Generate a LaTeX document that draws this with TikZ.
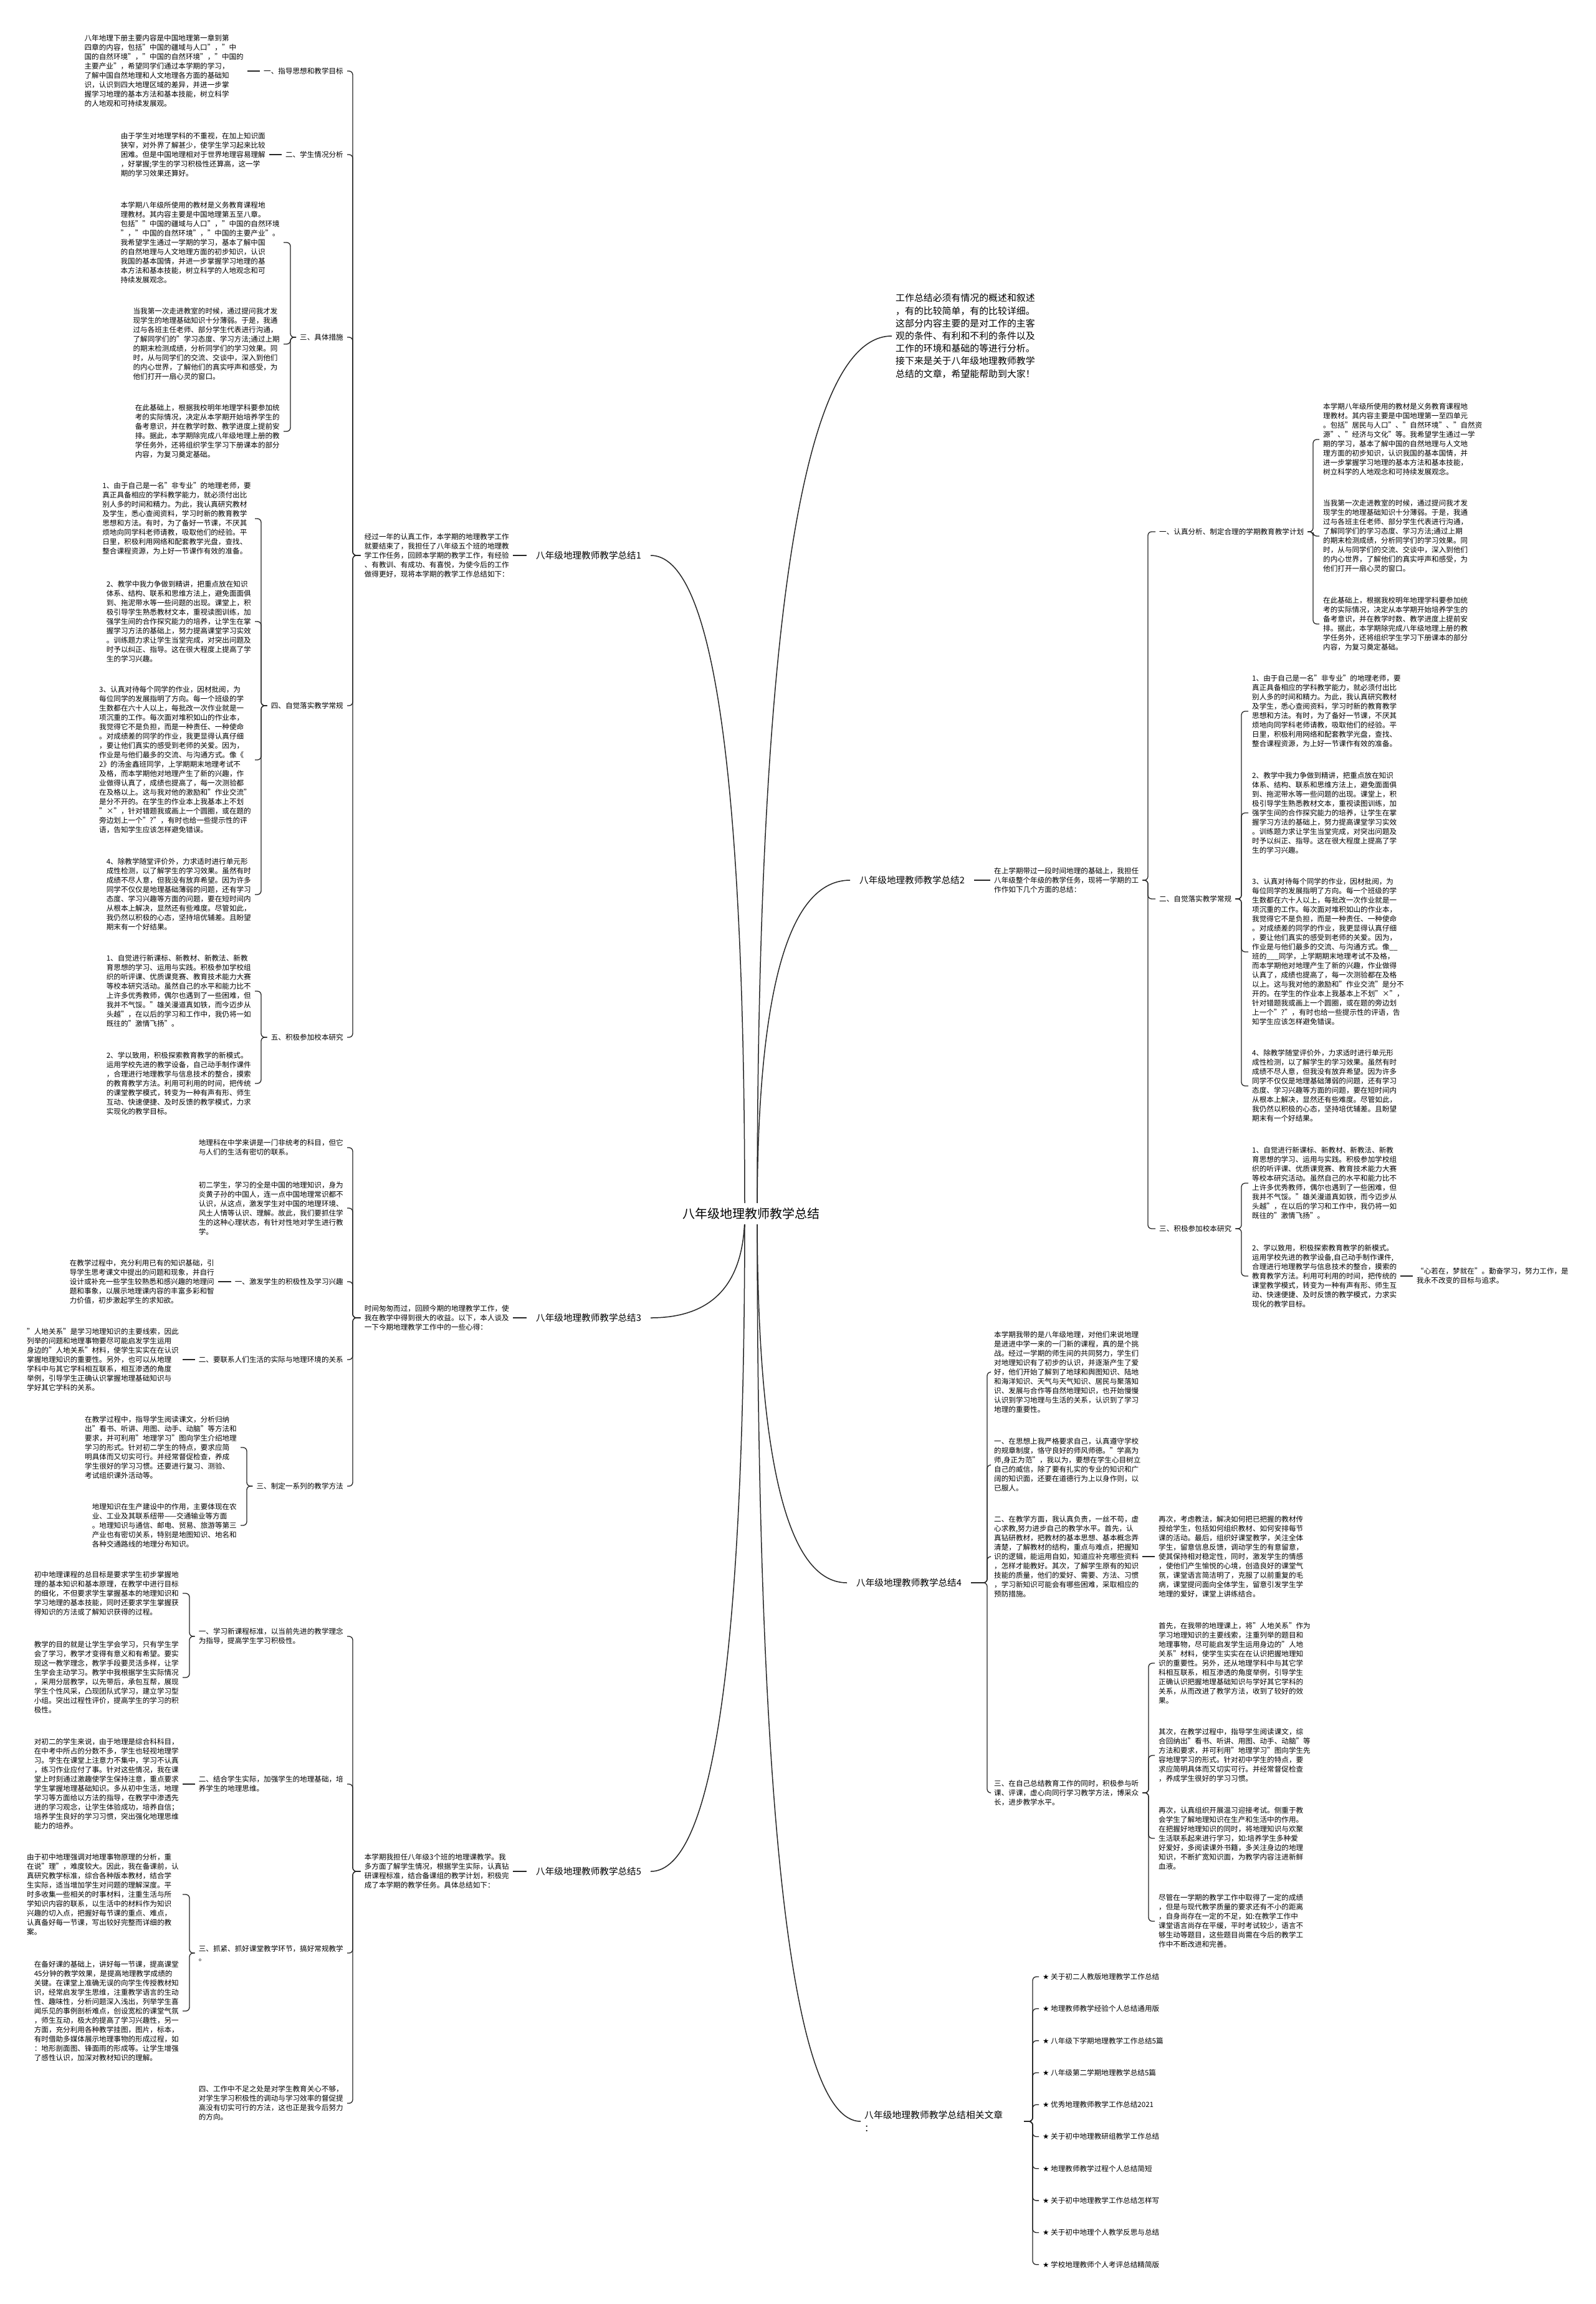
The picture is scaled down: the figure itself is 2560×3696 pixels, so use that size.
\documentclass[tikz,border=0pt]{standalone}
\usepackage{fontspec}
\setmainfont{Noto Sans CJK SC}
\newfontfamily\symfont{DejaVu Sans}
\usetikzlibrary{calc}

\begin{document}
\begin{tikzpicture}[x=1pt, y=-1pt,
    leaf/.style={font=\fontsize{11.6}{15}\selectfont, align=left, inner xsep=6pt, inner ysep=2pt},
    branch/.style={font=\fontsize{14.6}{18}\selectfont, inner xsep=15pt, inner ysep=3pt},
    bigtext/.style={font=\fontsize{14.9}{20.2}\selectfont, align=left, inner xsep=6pt, inner ysep=2pt},
    root/.style={font=\fontsize{20}{24}\selectfont, fill=white, inner sep=8pt},
    link/.style={draw=black!85, line width=1.3pt, rounded corners=6pt},
    rootlink/.style={draw=black!85, line width=1.5pt}]
  \fill[white] (0,0) rectangle (2560,3696);
  \useasboundingbox (0,0) rectangle (2560,3696);

  % bracket columns
  \coordinate (bL1) at (566,0);
  \coordinate (bL2) at (466,0);
  \coordinate (bL3) at (419,0);
  \coordinate (bL4) at (396,0);
  \coordinate (bL5) at (304,0);
  \coordinate (bR1) at (1842,0);
  \coordinate (bR2) at (2107,0);
  \coordinate (bR3) at (1992,0);
  \coordinate (bR4) at (1584,0);
  \coordinate (bR5) at (1843,0);
  \coordinate (bR6) at (1657,0);
  \coordinate (rl) at (1195,1947);
  \coordinate (rr) at (1215,1947);

  % ---------- summary 1 ----------
  \node[branch, anchor=west] (s1) at (845,891) {八年级地理教师教学总结1};
  \node[leaf, anchor=east] (s1in) at (823,891) {经过一年的认真工作，本学期的地理教学工作\\就要结束了，我担任了八年级五个班的地理教\\学工作任务，回顾本学期的教学工作，有经验\\、有教训、有成功、有喜悦，为使今后的工作\\做得更好，现将本学期的教学工作总结如下：};
  \node[leaf, anchor=east] (s1a) at (557,114) {一、指导思想和教学目标};
  \node[leaf, anchor=east] (s1at) at (397,114) {八年地理下册主要内容是中国地理第一章到第\\四章的内容，包括"中国的疆域与人口"，"中\\国的自然环境"，"中国的自然环境"，"中国的\\主要产业"，希望同学们通过本学期的学习，\\了解中国自然地理和人文地理各方面的基础知\\识，认识到四大地理区域的差异，并进一步掌\\握学习地理的基本方法和基本技能，树立科学\\的人地观和可持续发展观。};
  \node[leaf, anchor=east] (s1b) at (557,248) {二、学生情况分析};
  \node[leaf, anchor=east] (s1bt) at (432,248) {由于学生对地理学科的不重视，在加上知识面\\狭窄，对外界了解甚少，使学生学习起来比较\\困难。但是中国地理相对于世界地理容易理解\\，好掌握;学生的学习积极性还算高，这一学\\期的学习效果还算好。};
  \node[leaf, anchor=east] (s1c) at (557,541) {三、具体措施};
  \node[leaf, anchor=east] (s1c1) at (455,389) {本学期八年级所使用的教材是义务教育课程地\\理教材。其内容主要是中国地理第五至八章。\\包括""中国的疆域与人口"，"中国的自然环境\\"，"中国的自然环境"，"中国的主要产业"。\\我希望学生通过一学期的学习，基本了解中国\\的自然地理与人文地理方面的初步知识，认识\\我国的基本国情，并进一步掌握学习地理的基\\本方法和基本技能，树立科学的人地观念和可\\持续发展观念。};
  \node[leaf, anchor=east] (s1c2) at (455,552) {当我第一次走进教室的时候，通过提问我才发\\现学生的地理基础知识十分薄弱。于是，我通\\过与各班主任老师、部分学生代表进行沟通，\\了解同学们的"学习态度、学习方法;通过上期\\的期末检测成绩，分析同学们的学习效果。同\\时，从与同学们的交流、交谈中，深入到他们\\的内心世界，了解他们的真实呼声和感受，为\\他们打开一扇心灵的窗口。};
  \node[leaf, anchor=east] (s1c3) at (455,692) {在此基础上，根据我校明年地理学科要参加统\\考的实际情况，决定从本学期开始培养学生的\\备考意识，并在教学时数、教学进度上提前安\\排。据此，本学期除完成八年级地理上册的教\\学任务外，还将组织学生学习下册课本的部分\\内容，为复习奠定基础。};
  \node[leaf, anchor=east] (s1d) at (557,1132) {四、自觉落实教学常规};
  \node[leaf, anchor=east] (s1d1) at (409,832) {1、由于自己是一名"非专业"的地理老师，要\\真正具备相应的学科教学能力，就必须付出比\\别人多的时间和精力。为此，我认真研究教材\\及学生，悉心查阅资料，学习时新的教育教学\\思想和方法。有时，为了备好一节课，不厌其\\烦地向同学科老师请教，吸取他们的经验。平\\日里，积极利用网络和配套教学光盘，查找、\\整合课程资源，为上好一节课作有效的准备。};
  \node[leaf, anchor=east] (s1d2) at (409,997) {2、教学中我力争做到精讲，把重点放在知识\\体系、结构、联系和思维方法上，避免面面俱\\到、拖泥带水等一些问题的出现。课堂上，积\\极引导学生熟悉教材文本，重视读图训练，加\\强学生间的合作探究能力的培养，让学生在掌\\握学习方法的基础上，努力提高课堂学习实效\\。训练题力求让学生当堂完成，对突出问题及\\时予以纠正、指导。这在很大程度上提高了学\\生的学习兴趣。};
  \node[leaf, anchor=east] (s1d3) at (409,1219) {3、认真对待每个同学的作业，因材批阅，为\\每位同学的发展指明了方向。每一个班级的学\\生数都在六十人以上，每批改一次作业就是一\\项沉重的工作。每次面对堆积如山的作业本，\\我觉得它不是负担，而是一种责任、一种使命\\。对成绩差的同学的作业，我更显得认真仔细\\，要让他们真实的感受到老师的关爱。因为，\\作业是与他们最多的交流、与沟通方式。像《\\2》的汤金鑫班同学，上学期期末地理考试不\\及格，而本学期他对地理产生了新的兴趣，作\\业做得认真了，成绩也提高了，每一次测验都\\在及格以上。这与我对他的激励和"作业交流"\\是分不开的。在学生的作业本上我基本上不划\\"×"，针对错题我或画上一个圆圈，或在题的\\旁边划上一个"?"，有时也给一些提示性的评\\语，告知学生应该怎样避免错误。};
  \node[leaf, anchor=east] (s1d4) at (409,1435) {4、除教学随堂评价外，力求适时进行单元形\\成性检测，以了解学生的学习效果。虽然有时\\成绩不尽人意，但我没有放弃希望。因为许多\\同学不仅仅是地理基础薄弱的问题，还有学习\\态度、学习兴趣等方面的问题，要在短时间内\\从根本上解决，显然还有些难度。尽管如此，\\我仍然以积极的心态，坚持培优辅差。且盼望\\期末有一个好结果。};
  \node[leaf, anchor=east] (s1e) at (557,1664) {五、积极参加校本研究};
  \node[leaf, anchor=east] (s1e1) at (409,1590) {1、自觉进行新课标、新教材、新教法、新教\\育思想的学习、运用与实践。积极参加学校组\\织的听评课、优质课竞赛、教育技术能力大赛\\等校本研究活动。虽然自己的水平和能力比不\\上许多优秀教师，偶尔也遇到了一些困难，但\\我并不气馁。"雄关漫道真如铁，而今迈步从\\头越"，在以后的学习和工作中，我仍将一如\\既往的"激情飞扬"。};
  \node[leaf, anchor=east] (s1e2) at (409,1738) {2、学以致用，积极探索教育教学的新模式。\\运用学校先进的教学设备，自己动手制作课件\\，合理进行地理教学与信息技术的整合，摸索\\的教育教学方法。利用可利用的时间，把传统\\的课堂教学模式，转变为一种有声有形、师生\\互动、快速便捷、及时反馈的教学模式，力求\\实现化的教学目标。};

  \draw[link] (s1in) -- (s1);
  \draw[link] (s1in.west) -- (s1in.west -| bL1) |- (s1a.east);
  \draw[link] (s1in.west) -- (s1in.west -| bL1) |- (s1b.east);
  \draw[link] (s1in.west) -- (s1in.west -| bL1) |- (s1c.east);
  \draw[link] (s1in.west) -- (s1in.west -| bL1) |- (s1d.east);
  \draw[link] (s1in.west) -- (s1in.west -| bL1) |- (s1e.east);
  \draw[link] (s1a) -- (s1at);
  \draw[link] (s1b) -- (s1bt);
  \draw[link] (s1c.west) -- (s1c.west -| bL2) |- (s1c1.east);
  \draw[link] (s1c.west) -- (s1c.west -| bL2) |- (s1c2.east);
  \draw[link] (s1c.west) -- (s1c.west -| bL2) |- (s1c3.east);
  \draw[link] (s1d.west) -- (s1d.west -| bL3) |- (s1d1.east);
  \draw[link] (s1d.west) -- (s1d.west -| bL3) |- (s1d2.east);
  \draw[link] (s1d.west) -- (s1d.west -| bL3) |- (s1d3.east);
  \draw[link] (s1d.west) -- (s1d.west -| bL3) |- (s1d4.east);
  \draw[link] (s1e.west) -- (s1e.west -| bL3) |- (s1e1.east);
  \draw[link] (s1e.west) -- (s1e.west -| bL3) |- (s1e2.east);

  % ---------- summary 3 ----------
  \node[branch, anchor=west] (s3) at (845,2114) {八年级地理教师教学总结3};
  \node[leaf, anchor=east] (s3in) at (823,2114) {时间匆匆而过，回顾今期的地理教学工作，使\\我在教学中得到很大的收益。以下，本人谈及\\一下今期地理教学工作中的一些心得：};
  \node[leaf, anchor=east] (s3a) at (557,1841) {地理科在中学来讲是一门非统考的科目，但它\\与人们的生活有密切的联系。};
  \node[leaf, anchor=east] (s3b) at (557,1938) {初二学生，学习的全是中国的地理知识，身为\\炎黄子孙的中国人，连一点中国地理常识都不\\认识，从这点，激发学生对中国的地理环境、\\风土人情等认识、理解。故此，我们要抓住学\\生的这种心理状态，有针对性地对学生进行教\\学。};
  \node[leaf, anchor=east] (s3c) at (557,2056) {一、激发学生的积极性及学习兴趣};
  \node[leaf, anchor=east] (s3ct) at (350,2056) {在教学过程中，充分利用已有的知识基础，引\\导学生思考课文中提出的问题和现象，并自行\\设计或补充一些学生较熟悉和感兴趣的地理问\\题和事象，以展示地理课内容的丰富多彩和智\\力价值，初步激起学生的求知欲。};
  \node[leaf, anchor=east] (s3d) at (557,2181) {二、要联系人们生活的实际与地理环境的关系};
  \node[leaf, anchor=east] (s3dt) at (293,2181) {"人地关系"是学习地理知识的主要线索，因此\\列举的问题和地理事物要尽可能启发学生运用\\身边的"人地关系"材料，使学生实实在在认识\\掌握地理知识的重要性。另外，也可以从地理\\学科中与其它学科相互联系，相互渗透的角度\\举例，引导学生正确认识掌握地理基础知识与\\学好其它学科的关系。};
  \node[leaf, anchor=east] (s3e) at (557,2384) {三、制定一系列的教学方法};
  \node[leaf, anchor=east] (s3e1) at (386,2322) {在教学过程中，指导学生阅读课文，分析归纳\\出"看书、听讲、用图、动手、动脑"等方法和\\要求，并可利用"地理学习"图向学生介绍地理\\学习的形式。针对初二学生的特点，要求应简\\明具体而又切实可行。并经常督促检查，养成\\学生很好的学习习惯。还要进行复习、测验、\\考试组织课外活动等。};
  \node[leaf, anchor=east] (s3e2) at (386,2447) {地理知识在生产建设中的作用，主要体现在农\\业、工业及其联系纽带——交通输业等方面\\。地理知识与通信、邮电、贸易、旅游等第三\\产业也有密切关系，特别是地图知识、地名和\\各种交通路线的地理分布知识。};

  \draw[link] (s3in) -- (s3);
  \draw[link] (s3in.west) -- (s3in.west -| bL1) |- (s3a.east);
  \draw[link] (s3in.west) -- (s3in.west -| bL1) |- (s3b.east);
  \draw[link] (s3in.west) -- (s3in.west -| bL1) |- (s3c.east);
  \draw[link] (s3in.west) -- (s3in.west -| bL1) |- (s3d.east);
  \draw[link] (s3in.west) -- (s3in.west -| bL1) |- (s3e.east);
  \draw[link] (s3c) -- (s3ct);
  \draw[link] (s3d) -- (s3dt);
  \draw[link] (s3e.west) -- (s3e.west -| bL4) |- (s3e1.east);
  \draw[link] (s3e.west) -- (s3e.west -| bL4) |- (s3e2.east);

  % ---------- summary 5 ----------
  \node[branch, anchor=west] (s5) at (845,3002) {八年级地理教师教学总结5};
  \node[leaf, anchor=east] (s5in) at (823,3002) {本学期我担任八年级3个班的地理课教学。我\\多方面了解学生情况，根据学生实际，认真钻\\研课程标准，结合备课组的教学计划，积极完\\成了本学期的教学任务。具体总结如下：};
  \node[leaf, anchor=east] (s5a) at (557,2625) {一、学习新课程标准，以当前先进的教学理念\\为指导，提高学生学习积极性。};
  \node[leaf, anchor=east] (s5a1) at (293,2556) {初中地理课程的总目标是要求学生初步掌握地\\理的基本知识和基本原理，在教学中进行目标\\的细化，不但要求学生掌握基本的地理知识和\\学习地理的基本技能，同时还要求学生掌握获\\得知识的方法或了解知识获得的过程。};
  \node[leaf, anchor=east] (s5a2) at (293,2691) {教学的目的就是让学生学会学习，只有学生学\\会了学习，教学才变得有意义和有希望。要实\\现这一教学理念，教学手段要灵活多样，让学\\生学会主动学习。教学中我根据学生实际情况\\，采用分层教学，以先带后，承包互帮，展现\\学生个性风采，凸现团队式学习，建立学习型\\小组。突出过程性评价，提高学生的学习的积\\极性。};
  \node[leaf, anchor=east] (s5b) at (557,2862) {二、结合学生实际，加强学生的地理基础，培\\养学生的地理思维。};
  \node[leaf, anchor=east] (s5bt) at (293,2862) {对初二的学生来说，由于地理是综合科科目，\\在中考中所占的分数不多，学生也轻视地理学\\习。学生在课堂上注意力不集中，学习不认真\\，练习作业应付了事。针对这些情况，我在课\\堂上时刻通过激趣使学生保持注意，重点要求\\学生掌握地理基础知识。多从初中生活，地理\\学习等方面给以方法的指导，在教学中渗透先\\进的学习观念，让学生体验成功，培养自信；\\培养学生良好的学习习惯，突出强化地理思维\\能力的培养。};
  \node[leaf, anchor=east] (s5c) at (557,3133) {三、抓紧、抓好课堂教学环节，搞好常规教学\\。};
  \node[leaf, anchor=east] (s5c1) at (293,3039) {由于初中地理强调对地理事物原理的分析，重\\在说"理"，难度较大。因此，我在备课前，认\\真研究教学标准，综合各种版本教材，结合学\\生实际，适当增加学生对问题的理解深度。平\\时多收集一些相关的时事材料，注重生活与所\\学知识内容的联系，以生活中的材料作为知识\\兴趣的切入点，把握好每节课的重点、难点，\\认真备好每一节课，写出较好完整而详细的教\\案。};
  \node[leaf, anchor=east] (s5c2) at (293,3226) {在备好课的基础上，讲好每一节课，提高课堂\\45分钟的教学效果，是提高地理教学成绩的\\关键。在课堂上准确无误的向学生传授教材知\\识，经常启发学生思维，注重教学语言的生动\\性、趣味性，分析问题深入浅出，列举学生喜\\闻乐见的事例剖析难点，创设宽松的课堂气氛\\，师生互动，极大的提高了学习兴趣性，另一\\方面，充分利用各种教学挂图，图片，标本，\\有时借助多媒体展示地理事物的形成过程，如\\：地形剖面图、锋面雨的形成等。让学生增强\\了感性认识，加深对教材知识的理解。};
  \node[leaf, anchor=east] (s5d) at (557,3374) {四、工作中不足之处是对学生教育关心不够，\\对学生学习积极性的调动与学习效率的督促提\\高没有切实可行的方法，这也正是我今后努力\\的方向。};

  \draw[link] (s5in) -- (s5);
  \draw[link] (s5in.west) -- (s5in.west -| bL1) |- (s5a.east);
  \draw[link] (s5in.west) -- (s5in.west -| bL1) |- (s5b.east);
  \draw[link] (s5in.west) -- (s5in.west -| bL1) |- (s5c.east);
  \draw[link] (s5in.west) -- (s5in.west -| bL1) |- (s5d.east);
  \draw[link] (s5a.west) -- (s5a.west -| bL5) |- (s5a1.east);
  \draw[link] (s5a.west) -- (s5a.west -| bL5) |- (s5a2.east);
  \draw[link] (s5b) -- (s5bt);
  \draw[link] (s5c.west) -- (s5c.west -| bL5) |- (s5c1.east);
  \draw[link] (s5c.west) -- (s5c.west -| bL5) |- (s5c2.east);

  % ---------- right: intro ----------
  \node[bigtext, anchor=west] (intro) at (1431,539) {工作总结必须有情况的概述和叙述\\，有的比较简单，有的比较详细。\\这部分内容主要的是对工作的主客\\观的条件、有利和不利的条件以及\\工作的环境和基础的等进行分析。\\接下来是关于八年级地理教师教学\\总结的文章，希望能帮助到大家！};

  % ---------- summary 2 ----------
  \node[branch, anchor=west] (s2) at (1364,1412) {八年级地理教师教学总结2};
  \node[leaf, anchor=west] (s2in) at (1589,1412) {在上学期带过一段时间地理的基础上，我担任\\八年级整个年级的教学任务，现将一学期的工\\作作如下几个方面的总结：};
  \node[leaf, anchor=west] (s2a) at (1854,853) {一、认真分析、制定合理的学期教育教学计划};
  \node[leaf, anchor=west] (s2a1) at (2117,705) {本学期八年级所使用的教材是义务教育课程地\\理教材。其内容主要是中国地理第一至四单元\\。包括"居民与人口"、"自然环境"、"自然资\\源"、"经济与文化"等。我希望学生通过一学\\期的学习，基本了解中国的自然地理与人文地\\理方面的初步知识，认识我国的基本国情，并\\进一步掌握学习地理的基本方法和基本技能，\\树立科学的人地观念和可持续发展观念。};
  \node[leaf, anchor=west] (s2a2) at (2117,860) {当我第一次走进教室的时候，通过提问我才发\\现学生的地理基础知识十分薄弱。于是，我通\\过与各班主任老师、部分学生代表进行沟通，\\了解同学们的学习态度、学习方法;通过上期\\的期末检测成绩，分析同学们的学习效果。同\\时，从与同学们的交流、交谈中，深入到他们\\的内心世界，了解他们的真实呼声和感受，为\\他们打开一扇心灵的窗口。};
  \node[leaf, anchor=west] (s2a3) at (2117,1001) {在此基础上，根据我校明年地理学科要参加统\\考的实际情况，决定从本学期开始培养学生的\\备考意识，并在教学时数、教学进度上提前安\\排。据此，本学期除完成八年级地理上册的教\\学任务外，还将组织学生学习下册课本的部分\\内容，为复习奠定基础。};
  \node[leaf, anchor=west] (s2b) at (1854,1442) {二、自觉落实教学常规};
  \node[leaf, anchor=west] (s2b1) at (2003,1141) {1、由于自己是一名"非专业"的地理老师，要\\真正具备相应的学科教学能力，就必须付出比\\别人多的时间和精力。为此，我认真研究教材\\及学生，悉心查阅资料，学习时新的教育教学\\思想和方法。有时，为了备好一节课，不厌其\\烦地向同学科老师请教，吸取他们的经验。平\\日里，积极利用网络和配套教学光盘，查找、\\整合课程资源，为上好一节课作有效的准备。};
  \node[leaf, anchor=west] (s2b2) at (2003,1304) {2、教学中我力争做到精讲，把重点放在知识\\体系、结构、联系和思维方法上，避免面面俱\\到、拖泥带水等一些问题的出现。课堂上，积\\极引导学生熟悉教材文本，重视读图训练，加\\强学生间的合作探究能力的培养，让学生在掌\\握学习方法的基础上，努力提高课堂学习实效\\。训练题力求让学生当堂完成，对突出问题及\\时予以纠正、指导。这在很大程度上提高了学\\生的学习兴趣。};
  \node[leaf, anchor=west] (s2b3) at (2003,1527) {3、认真对待每个同学的作业，因材批阅，为\\每位同学的发展指明了方向。每一个班级的学\\生数都在六十人以上，每批改一次作业就是一\\项沉重的工作。每次面对堆积如山的作业本，\\我觉得它不是负担，而是一种责任、一种使命\\。对成绩差的同学的作业，我更显得认真仔细\\，要让他们真实的感受到老师的关爱。因为，\\作业是与他们最多的交流、与沟通方式。像\_\_\\班的\_\_\_同学，上学期期末地理考试不及格，\\而本学期他对地理产生了新的兴趣，作业做得\\认真了，成绩也提高了，每一次测验都在及格\\以上。这与我对他的激励和"作业交流"是分不\\开的。在学生的作业本上我基本上不划"×"，\\针对错题我或画上一个圆圈，或在题的旁边划\\上一个"?"，有时也给一些提示性的评语，告\\知学生应该怎样避免错误。};
  \node[leaf, anchor=west] (s2b4) at (2003,1742) {4、除教学随堂评价外，力求适时进行单元形\\成性检测，以了解学生的学习效果。虽然有时\\成绩不尽人意，但我没有放弃希望。因为许多\\同学不仅仅是地理基础薄弱的问题，还有学习\\态度、学习兴趣等方面的问题，要在短时间内\\从根本上解决，显然还有些难度。尽管如此，\\我仍然以积极的心态，坚持培优辅差。且盼望\\期末有一个好结果。};
  \node[leaf, anchor=west] (s2c) at (1854,1971) {三、积极参加校本研究};
  \node[leaf, anchor=west] (s2c1) at (2003,1898) {1、自觉进行新课标、新教材、新教法、新教\\育思想的学习、运用与实践。积极参加学校组\\织的听评课、优质课竞赛、教育技术能力大赛\\等校本研究活动。虽然自己的水平和能力比不\\上许多优秀教师，偶尔也遇到了一些困难，但\\我并不气馁。"雄关漫道真如铁，而今迈步从\\头越"，在以后的学习和工作中，我仍将一如\\既往的"激情飞扬"。};
  \node[leaf, anchor=west] (s2c2) at (2003,2047) {2、学以致用，积极探索教育教学的新模式。\\运用学校先进的教学设备,自己动手制作课件,\\合理进行地理教学与信息技术的整合，摸索的\\教育教学方法。利用可利用的时间，把传统的\\课堂教学模式，转变为一种有声有形、师生互\\动、快速便捷、及时反馈的教学模式，力求实\\现化的教学目标。};
  \node[leaf, anchor=west] (s2c2x) at (2267,2047) {“心若在，梦就在”。勤奋学习，努力工作，是\\我永不改变的目标与追求。};

  \draw[link] (s2) -- (s2in);
  \draw[link] (s2in.east) -- (s2in.east -| bR1) |- (s2a.west);
  \draw[link] (s2in.east) -- (s2in.east -| bR1) |- (s2b.west);
  \draw[link] (s2in.east) -- (s2in.east -| bR1) |- (s2c.west);
  \draw[link] (s2a.east) -- (s2a.east -| bR2) |- (s2a1.west);
  \draw[link] (s2a.east) -- (s2a.east -| bR2) |- (s2a2.west);
  \draw[link] (s2a.east) -- (s2a.east -| bR2) |- (s2a3.west);
  \draw[link] (s2b.east) -- (s2b.east -| bR3) |- (s2b1.west);
  \draw[link] (s2b.east) -- (s2b.east -| bR3) |- (s2b2.west);
  \draw[link] (s2b.east) -- (s2b.east -| bR3) |- (s2b3.west);
  \draw[link] (s2b.east) -- (s2b.east -| bR3) |- (s2b4.west);
  \draw[link] (s2c.east) -- (s2c.east -| bR3) |- (s2c1.west);
  \draw[link] (s2c.east) -- (s2c.east -| bR3) |- (s2c2.west);
  \draw[link] (s2c2) -- (s2c2x);

  % ---------- summary 4 ----------
  \node[branch, anchor=west] (s4) at (1359,2539) {八年级地理教师教学总结4};
  \node[leaf, anchor=west] (s4a) at (1589,2201) {本学期我带的是八年级地理，对他们来说地理\\是进进中学一来的一门新的课程，真的是个挑\\战。经过一学期的师生间的共同努力，学生们\\对地理知识有了初步的认识，并逐渐产生了爱\\好，他们开始了解到了地球和舆图知识、陆地\\和海洋知识、天气与天气知识、居民与聚落知\\识、发展与合作等自然地理知识，也开始慢慢\\认识到学习地理与生活的关系，认识到了学习\\地理的重要性。};
  \node[leaf, anchor=west] (s4b) at (1589,2350) {一、在思想上我严格要求自己，认真遵守学校\\的规章制度，恪守良好的师风师德。"学高为\\师,身正为范"，我以为，要想在学生心目树立\\自己的威信，除了要有扎实的专业的知识和广\\阔的知识面，还要在道德行为上以身作则，以\\已服人。};
  \node[leaf, anchor=west] (s4c) at (1589,2497) {二、在教学方面，我认真负责，一丝不苟，虚\\心求教,努力进步自己的教学水平。首先，认\\真钻研教材，把教材的基本思想、基本概念弄\\清楚，了解教材的结构，重点与难点，把握知\\识的逻辑，能运用自如，知道应补充哪些资料\\，怎样才能教好。其次，了解学生原有的知识\\技能的质量，他们的爱好、需要、方法、习惯\\，学习新知识可能会有哪些困难，采取相应的\\预防措施。};
  \node[leaf, anchor=west] (s4cx) at (1853,2497) {再次，考虑教法，解决如何把已把握的教材传\\授给学生，包括如何组织教材、如何安排每节\\课的活动。最后，组织好课堂教学，关注全体\\学生，留意信息反馈，调动学生的有意留意，\\使其保持相对稳定性，同时，激发学生的情感\\，使他们产生愉悦的心境，创造良好的课堂气\\氛，课堂语言简洁明了，克服了以前重复的毛\\病，课堂提问面向全体学生，留意引发学生学\\地理的爱好，课堂上讲练结合。};
  \node[leaf, anchor=west] (s4d) at (1589,2876) {三、在自己总结教育工作的同时，积极参与听\\课、评课，虚心向同行学习教学方法，博采众\\长，进步教学水平。};
  \node[leaf, anchor=west] (s4d1) at (1853,2668) {首先，在我带的地理课上，将"人地关系"作为\\学习地理知识的主要线索，注重列举的题目和\\地理事物，尽可能启发学生运用身边的"人地\\关系"材料，使学生实实在在认识把握地理知\\识的重要性。另外，还从地理学科中与其它学\\科相互联系，相互渗透的角度举例，引导学生\\正确认识把握地理基础知识与学好其它学科的\\关系，从而改进了教学方法，收到了较好的效\\果。};
  \node[leaf, anchor=west] (s4d2) at (1853,2816) {其次，在教学过程中，指导学生阅读课文，综\\合回纳出"看书、听讲、用图、动手、动脑"等\\方法和要求，并可利用"地理学习"图向学生先\\容地理学习的形式。针对初中学生的特点，要\\求应简明具体而又切实可行。并经常督促检查\\，养成学生很好的学习习惯。};
  \node[leaf, anchor=west] (s4d3) at (1853,2949) {再次，认真组织开展温习迎接考试。侧重于教\\会学生了解地理知识在生产和生活中的作用。\\在把握好地理知识的同时，将地理知识与欢聚\\生活联系起来进行学习，如:培养学生多种爱\\好爱好，多阅读课外书籍，多关注身边的地理\\知识，不断扩宽知识面，为教学内容注进新鲜\\血液。};
  \node[leaf, anchor=west] (s4d4) at (1853,3082) {尽管在一学期的教学工作中取得了一定的成绩\\，但是与现代教学质量的要求还有不小的距离\\，自身尚存在一定的不足，如:在教学工作中\\课堂语言尚存在平缓，平时考试较少，语言不\\够生动等题目，这些题目尚需在今后的教学工\\作中不断改进和完善。};

  \draw[link] (s4.east) -- (s4.east -| bR4) |- (s4a.west);
  \draw[link] (s4.east) -- (s4.east -| bR4) |- (s4b.west);
  \draw[link] (s4.east) -- (s4.east -| bR4) |- (s4c.west);
  \draw[link] (s4.east) -- (s4.east -| bR4) |- (s4d.west);
  \draw[link] (s4c) -- (s4cx);
  \draw[link] (s4d.east) -- (s4d.east -| bR5) |- (s4d1.west);
  \draw[link] (s4d.east) -- (s4d.east -| bR5) |- (s4d2.west);
  \draw[link] (s4d.east) -- (s4d.east -| bR5) |- (s4d3.west);
  \draw[link] (s4d.east) -- (s4d.east -| bR5) |- (s4d4.west);

  % ---------- related articles ----------
  \node[bigtext, anchor=west, text width=250pt, font=\fontsize{14.8}{21}\selectfont] (rel) at (1381,3403) {八年级地理教师教学总结相关文章\\：};
  \foreach \t [count=\i] in {关于初二人教版地理教学工作总结, 地理教师教学经验个人总结通用版,
      八年级下学期地理教学工作总结5篇, 八年级第二学期地理教学总结5篇,
      优秀地理教师教学工作总结2021, 关于初中地理教研组教学工作总结,
      地理教师教学过程个人总结简短, 关于初中地理教学工作总结怎样写,
      关于初中地理个人教学反思与总结, 学校地理教师个人考评总结精简版}
    \node[leaf, anchor=west] (r\i) at (1667,{3171+51.3*(\i-1)}) {{\symfont ★} \t};
  \foreach \i in {1,...,10}
    \draw[link] (rel.east) -- (rel.east -| bR6) |- (r\i.west);

  % ---------- root and its curves ----------
  \draw[rootlink] (rl) .. controls ($(rl)!2/3!(rl |- s1.east)$) and ($(s1.east)!2/3!(rl |- s1.east)$) .. (s1.east);
  \draw[rootlink] (rl) .. controls ($(rl)!2/3!(rl |- s3.east)$) and ($(s3.east)!2/3!(rl |- s3.east)$) .. (s3.east);
  \draw[rootlink] (rl) .. controls ($(rl)!2/3!(rl |- s5.east)$) and ($(s5.east)!2/3!(rl |- s5.east)$) .. (s5.east);
  \draw[rootlink] (rr) .. controls ($(rr)!2/3!(rr |- intro.west)$) and ($(intro.west)!2/3!(rr |- intro.west)$) .. (intro.west);
  \draw[rootlink] (rr) .. controls ($(rr)!2/3!(rr |- s2.west)$) and ($(s2.west)!2/3!(rr |- s2.west)$) .. (s2.west);
  \draw[rootlink] (rr) .. controls ($(rr)!2/3!(rr |- s4.west)$) and ($(s4.west)!2/3!(rr |- s4.west)$) .. (s4.west);
  \draw[rootlink] (rr) .. controls ($(rr)!2/3!(rr |- rel.west)$) and ($(rel.west)!2/3!(rr |- rel.west)$) .. (rel.west);
  \node[root] (root) at (1205,1947) {八年级地理教师教学总结};
\end{tikzpicture}
\end{document}
